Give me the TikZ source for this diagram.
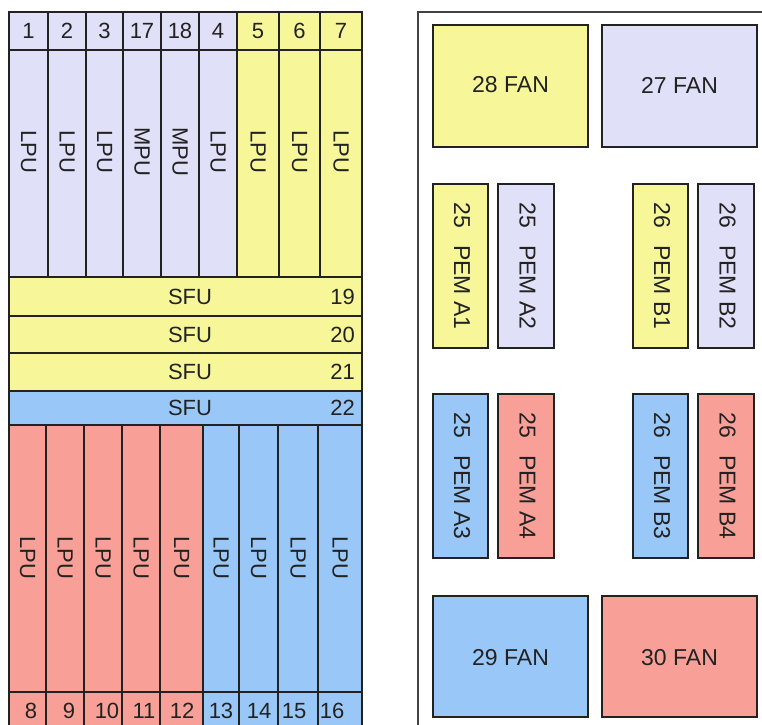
\documentclass[tikz,border=0pt]{standalone}
\usepackage{fontspec}
\setmainfont{Liberation Sans}
\definecolor{lav}{RGB}{224,224,248}
\definecolor{yel}{RGB}{247,247,153}
\definecolor{blu}{RGB}{153,200,248}
\definecolor{sal}{RGB}{248,160,152}
\definecolor{ink}{RGB}{34,34,34}
\begin{document}
\begin{tikzpicture}[x=1pt,y=-1pt,
  cell/.style={draw=ink, line width=1.8pt},
  lbl/.style={font=\fontsize{22}{22}\selectfont, text=ink, inner sep=0pt},
  vlbl/.style={lbl, rotate=-90},
  fanlbl/.style={font=\fontsize{23}{23}\selectfont, text=ink, inner sep=0pt}]
\useasboundingbox (0,0) rectangle (762,724);
\clip (0,0) rectangle (762,724);
\fill[white] (0,0) rectangle (762,724);

% ---------- left chassis: top slots ----------
\foreach \xa/\xb/\c/\n/\t [count=\k] in {9/48/lav/1/LPU,48/86/lav/2/LPU,86/123/lav/3/LPU,123/161/lav/17/MPU,161/199/lav/18/MPU,199/237/lav/4/LPU,237/279/yel/5/LPU,279/320/yel/6/LPU,320/362/yel/7/LPU}{
  \draw[cell, fill=\c] (\xa,12) rectangle (\xb,50);
  \draw[cell, fill=\c] (\xa,50) rectangle (\xb,277);
  \node[lbl] (tn\k) at ({(\xa+\xb)/2},31) {\n};
  \node[vlbl] (tl\k) at ({(\xa+\xb)/2},152) {\t};
}

% ---------- SFU rows ----------
\foreach \ya/\yb/\c/\n in {277/316/yel/19,316/353/yel/20,353/391/yel/21,391/425/blu/22}{
  \draw[cell, fill=\c] (9,\ya) rectangle (362,\yb);
  \node[lbl] (sfu\n) at (190,{(\ya+\yb)/2}) {SFU};
  \node[lbl, anchor=east] (sfn\n) at (355,{(\ya+\yb)/2}) {\n};
}

% ---------- bottom slots ----------
\foreach \xa/\xb/\c/\n/\nx [count=\k] in {9/46/sal/8/31,46/84/sal/9/69,84/122/sal/10/107,122/160/sal/11/144,160/203/sal/12/182,203/239/blu/13/221,239/278/blu/14/259,278/318/blu/15/294,318/362/blu/16/332}{
  \draw[cell, fill=\c] (\xa,425) rectangle (\xb,692);
  \draw[cell, fill=\c] (\xa,692) rectangle (\xb,745);
  \node[vlbl] (bl\k) at ({(\xa+\xb)/2},558) {LPU};
  \node[lbl] (bn\k) at (\nx,711) {\n};
}

% ---------- right chassis ----------
\draw[draw=ink!85, line width=1.8pt] (418,12) rectangle (790,760);

% fans
\draw[cell, fill=yel] (433,25) rectangle (588,147);
\node[fanlbl] (f28) at (510.5,85) {28 FAN};
\draw[cell, fill=lav] (602,25) rectangle (757,147);
\node[fanlbl] (f27) at (679.5,85) {27 FAN};
\draw[cell, fill=blu] (433,596) rectangle (588,717);
\node[fanlbl] (f29) at (510.5,658) {29 FAN};
\draw[cell, fill=sal] (602,596) rectangle (757,717);
\node[fanlbl] (f30) at (679.5,658) {30 FAN};

% PEMs
\foreach \xa/\xb/\ya/\yb/\c/\t [count=\k] in {
  433/488/184/348/yel/{25\hspace{0.75em}PEM A1},
  498/554/184/348/lav/{25\hspace{0.75em}PEM A2},
  633/688/184/348/yel/{26\hspace{0.75em}PEM B1},
  698/754/184/348/lav/{26\hspace{0.75em}PEM B2},
  433/488/394/558/blu/{25\hspace{0.75em}PEM A3},
  498/554/394/558/sal/{25\hspace{0.75em}PEM A4},
  633/688/394/558/blu/{26\hspace{0.75em}PEM B3},
  698/754/394/558/sal/{26\hspace{0.75em}PEM B4}}{
  \draw[cell, fill=\c] (\xa,\ya) rectangle (\xb,\yb);
  \node[fanlbl, rotate=-90] (pem\k) at ({(\xa+\xb)/2+1.5},{(\ya+\yb)/2}) {\t};
}
\end{tikzpicture}
\end{document}
